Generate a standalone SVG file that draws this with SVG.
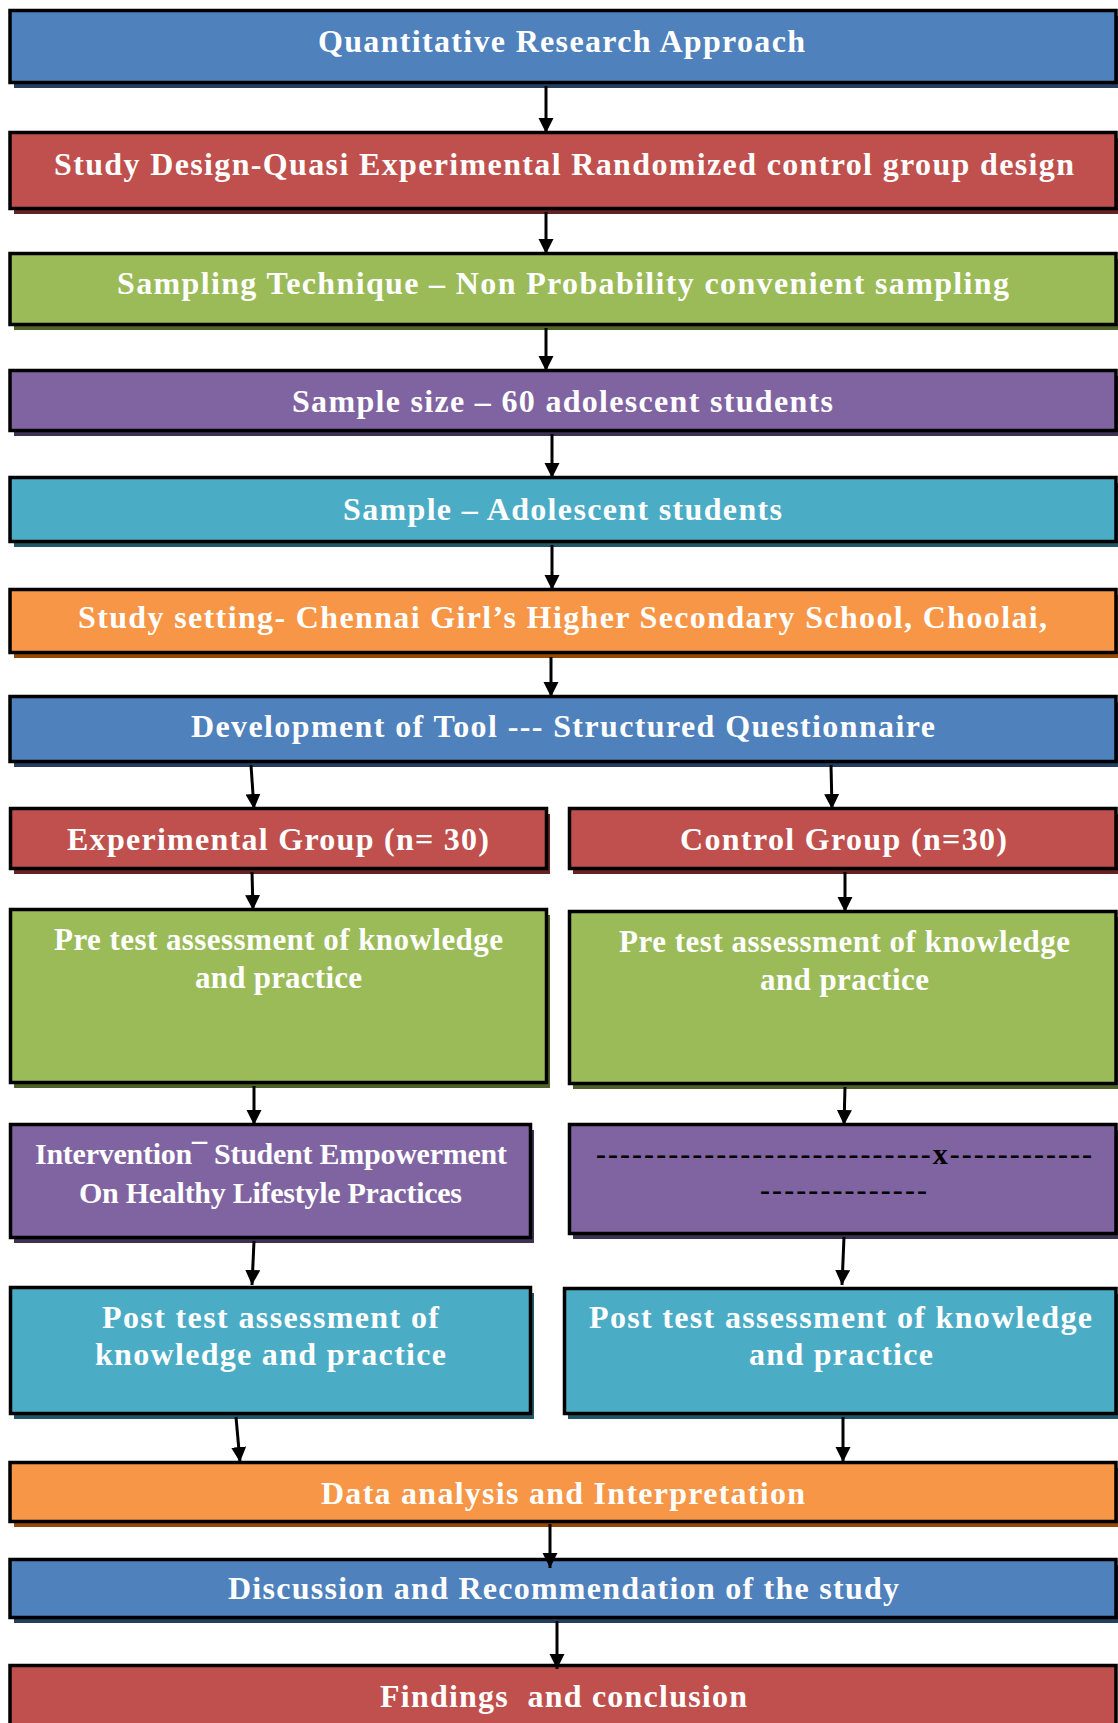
<svg xmlns="http://www.w3.org/2000/svg" width="1118" height="1723" viewBox="0 0 1118 1723">
<style>
.box{stroke:#000;stroke-width:3.5}
.t{font-family:"Liberation Serif","Times New Roman",serif;font-weight:bold;font-size:32px;fill:#fff}
.s{font-size:31px}
.i{font-size:30px}
.k{fill:#000}
.blue{fill:#4F81BD}.blueS{fill:#243F60}
.red{fill:#C0504D}.redS{fill:#632423}
.green{fill:#9BBB59}.greenS{fill:#4F6228}
.purple{fill:#8064A2}.purpleS{fill:#3F3151}
.teal{fill:#4BACC6}.tealS{fill:#205867}
.orange{fill:#F79646}.orangeS{fill:#974806}
.conn line{stroke:#000;stroke-width:3;marker-end:url(#ah)}
</style>
<defs>
<marker id="ah" markerUnits="userSpaceOnUse" markerWidth="16" markerHeight="16" refX="15" refY="7.5" orient="auto">
<path d="M0,0 L15,7.5 L0,15 z" fill="#000"/>
</marker>
</defs>
<rect width="1118" height="1723" fill="#fff"/>

<g id="n1"><rect class="blueS" x="14" y="16" width="1106" height="72"/><rect class="box blue" x="10" y="10.5" width="1106" height="72"/>
<text class="t" x="318" y="52" textLength="487" lengthAdjust="spacing">Quantitative Research Approach</text></g>

<g id="n2"><rect class="redS" x="14" y="138" width="1106" height="76"/><rect class="box red" x="10" y="132.5" width="1106" height="76"/>
<text class="t" x="54" y="175" textLength="1020" lengthAdjust="spacing">Study Design-Quasi Experimental Randomized control group design</text></g>

<g id="n3"><rect class="greenS" x="14" y="259" width="1106" height="71"/><rect class="box green" x="10" y="253.5" width="1106" height="71"/>
<text class="t" x="117" y="294" textLength="892" lengthAdjust="spacing">Sampling Technique – Non Probability convenient sampling</text></g>

<g id="n4"><rect class="purpleS" x="14" y="376" width="1106" height="60"/><rect class="box purple" x="10" y="370.5" width="1106" height="60"/>
<text class="t" x="292" y="412" textLength="541" lengthAdjust="spacing">Sample size – 60 adolescent students</text></g>

<g id="n5"><rect class="tealS" x="14" y="483" width="1106" height="64"/><rect class="box teal" x="10" y="477.5" width="1106" height="64"/>
<text class="t" x="343" y="520" textLength="439" lengthAdjust="spacing">Sample – Adolescent students</text></g>

<g id="n6"><rect class="orangeS" x="14" y="595" width="1106" height="63"/><rect class="box orange" x="10" y="589.5" width="1106" height="63"/>
<text class="t" x="78" y="628" textLength="969" lengthAdjust="spacing">Study setting- Chennai Girl’s Higher Secondary School, Choolai,</text></g>

<g id="n7"><rect class="blueS" x="14" y="702" width="1106" height="65"/><rect class="box blue" x="10" y="696.5" width="1106" height="65"/>
<text class="t" x="191" y="737" textLength="744" lengthAdjust="spacing">Development of Tool --- Structured Questionnaire</text></g>

<g id="n8"><rect class="redS" x="14" y="814" width="536" height="60"/><rect class="box red" x="10.5" y="808.5" width="536" height="60"/>
<text class="t" x="67" y="850" textLength="422" lengthAdjust="spacing">Experimental Group (n= 30)</text></g>

<g id="n9"><rect class="redS" x="573" y="814" width="547" height="60"/><rect class="box red" x="569.5" y="808.5" width="546.5" height="60"/>
<text class="t" x="680" y="850" textLength="327" lengthAdjust="spacing">Control Group (n=30)</text></g>

<g id="n10"><rect class="greenS" x="14" y="915" width="536" height="173"/><rect class="box green" x="10.5" y="909.5" width="536" height="173"/>
<text class="t s" x="54" y="950" textLength="449" lengthAdjust="spacing">Pre test assessment of knowledge</text>
<text class="t s" x="195" y="988" textLength="167" lengthAdjust="spacing">and practice</text></g>

<g id="n11"><rect class="greenS" x="573" y="917" width="547" height="172"/><rect class="box green" x="569.5" y="911.5" width="546.5" height="172"/>
<text class="t s" x="619" y="952" textLength="451" lengthAdjust="spacing">Pre test assessment of knowledge</text>
<text class="t s" x="760" y="990" textLength="169" lengthAdjust="spacing">and practice</text></g>

<g id="n12"><rect class="purpleS" x="14" y="1130" width="520" height="113"/><rect class="box purple" x="10.5" y="1124.5" width="520" height="113"/>
<text class="t i" x="35" y="1164" textLength="472" lengthAdjust="spacing">Intervention¯ Student Empowerment</text>
<text class="t i" x="79" y="1203" textLength="383" lengthAdjust="spacing">On Healthy Lifestyle Practices</text></g>

<g id="n13"><rect class="purpleS" x="573" y="1130" width="547" height="109"/><rect class="box purple" x="569.5" y="1124.5" width="546.5" height="109"/>
<text class="t i k" x="596" y="1164" textLength="496" lengthAdjust="spacing">----------------------------x------------</text>
<text class="t i k" x="760" y="1200" textLength="167" lengthAdjust="spacing">--------------</text></g>

<g id="n14"><rect class="tealS" x="14" y="1293" width="520" height="126"/><rect class="box teal" x="10.5" y="1287.5" width="520" height="126"/>
<text class="t" x="102" y="1328" textLength="337" lengthAdjust="spacing">Post test assessment of</text>
<text class="t" x="95" y="1365" textLength="351" lengthAdjust="spacing">knowledge and practice</text></g>

<g id="n15"><rect class="tealS" x="568" y="1294" width="552" height="125"/><rect class="box teal" x="564.5" y="1288.5" width="551.5" height="125"/>
<text class="t" x="589" y="1328" textLength="503" lengthAdjust="spacing">Post test assessment of knowledge</text>
<text class="t" x="749" y="1365" textLength="184" lengthAdjust="spacing">and practice</text></g>

<g id="n16"><rect class="orangeS" x="14" y="1468" width="1106" height="59"/><rect class="box orange" x="10" y="1462.5" width="1106" height="59"/>
<text class="t" x="321" y="1504" textLength="484" lengthAdjust="spacing">Data analysis and Interpretation</text></g>

<g id="n17"><rect class="blueS" x="14" y="1565" width="1106" height="58"/><rect class="box blue" x="10" y="1559.5" width="1106" height="58"/>
<text class="t" x="228" y="1599" textLength="671" lengthAdjust="spacing">Discussion and Recommendation of the study</text></g>

<g id="n18"><rect class="box red" x="10" y="1665.5" width="1106" height="80"/>
<text class="t" x="380" y="1707" textLength="367" lengthAdjust="spacing" xml:space="preserve">Findings  and conclusion</text></g>

<g id="connectors" class="conn">
<line x1="546" y1="86" x2="546" y2="133"/>
<line x1="546" y1="212" x2="546" y2="254"/>
<line x1="546" y1="328" x2="546" y2="371"/>
<line x1="552" y1="434" x2="552" y2="478"/>
<line x1="552" y1="545" x2="552" y2="590"/>
<line x1="551" y1="657" x2="551" y2="697"/>
<line x1="251" y1="765" x2="254" y2="809"/>
<line x1="831" y1="765" x2="832" y2="809"/>
<line x1="252" y1="872" x2="253" y2="910"/>
<line x1="845" y1="872" x2="845" y2="912"/>
<line x1="254" y1="1086" x2="254" y2="1125"/>
<line x1="845" y1="1087" x2="844" y2="1125"/>
<line x1="254" y1="1241" x2="252" y2="1285"/>
<line x1="844" y1="1237" x2="842" y2="1285"/>
<line x1="236" y1="1417" x2="240" y2="1462"/>
<line x1="843" y1="1417" x2="843" y2="1462"/>
<line x1="550" y1="1524" x2="550" y2="1568"/>
<line x1="557" y1="1621" x2="557" y2="1669"/>
</g>
</svg>
